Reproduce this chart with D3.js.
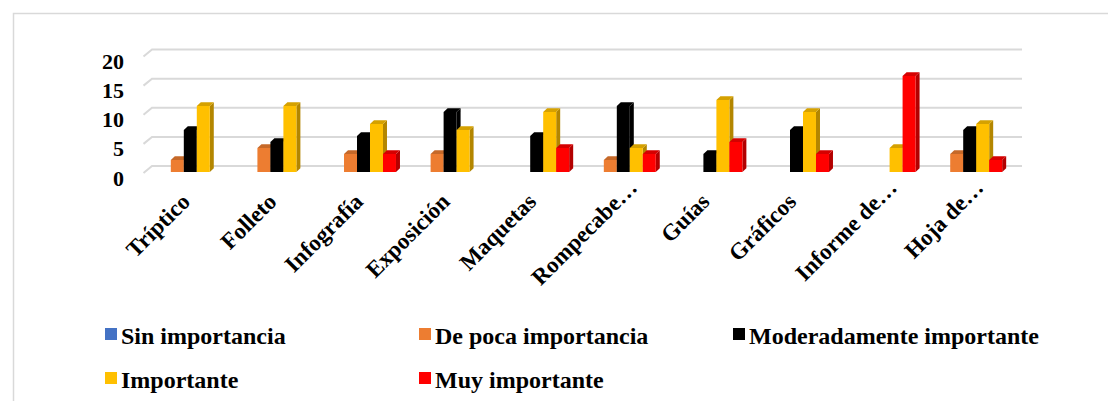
<!DOCTYPE html>
<html>
<head>
<meta charset="utf-8">
<script src="https://cdn.jsdelivr.net/npm/d3@7"></script>
<style>
  html, body { margin: 0; padding: 0; background: #fff; }
  svg { display: block; }
  text { font-family: "Liberation Serif", "Times New Roman", serif; font-weight: bold; fill: #000; }
</style>
</head>
<body>
<script>
// Valoración de recursos didácticos por nivel de importancia
const categories = ["Tríptico", "Folleto", "Infografía", "Exposición", "Maquetas",
                    "Rompecabe…", "Guías", "Gráficos", "Informe de…", "Hoja de…"];
const seriesNames = ["Sin importancia", "De poca importancia", "Moderadamente importante",
                     "Importante", "Muy importante"];
const sinImportancia          = [0, 0, 0, 0, 0, 0, 0, 0, 0, 0];
const dePocaImportancia       = [2, 4, 3, 3, 0, 2, 0, 0, 0, 3];
const moderadamenteImportante = [7, 5, 6, 10, 6, 11, 3, 7, 0, 7];
const importante              = [11, 11, 8, 7, 10, 4, 12, 10, 4, 8];
const muyImportante           = [0, 0, 3, 0, 4, 3, 5, 3, 16, 2];
const yTicks = [0, 5, 10, 15, 20];
const seriesColors = ["#4472C4", "#ED7D31", "#000000", "#FFC000", "#FF0000"];

const seriesValues = [sinImportancia, dePocaImportancia, moderadamenteImportante, importante, muyImportante];

const W = 1108, H = 401;
const svg = d3.select("body").append("svg").attr("width", W).attr("height", H);

// outer chart frame
svg.append("rect")
  .attr("x", 13.5).attr("y", 13.5).attr("width", W).attr("height", H)
  .attr("fill", "#fff").attr("stroke", "#d9d9d9").attr("stroke-width", 1.5);

// back wall (gridlines) and floor depth
const yBack = d3.scaleLinear().domain([0, 20]).range([166, 49.5]);
const backX0 = 152, backX1 = 1022;
const floorDx = -8.5, floorDy = 7;

const grid = svg.append("g");
yTicks.forEach(v => {
  const y = yBack(v);
  grid.append("path")
    .attr("d", `M${backX0 + floorDx},${y + floorDy}L${backX0},${y}L${backX1},${y}`)
    .attr("fill", "none").attr("stroke", "#d9d9d9").attr("stroke-width", 2);
});

// value axis labels
svg.append("g").selectAll("text").data(yTicks).join("text")
  .attr("x", 124).attr("y", d => yBack(d) + floorDy + 5)
  .attr("text-anchor", "end").attr("dominant-baseline", "central")
  .style("font-size", "22px")
  .text(d => d);

// bars
const x0 = d3.scaleBand().domain(categories).range([147, 1013]).paddingInner(0.25).paddingOuter(0.125);
const x1 = d3.scaleBand().domain(seriesNames).range([0, x0.bandwidth()]);
const yBar = d3.scaleLinear().domain([0, 20]).range([172, 52]);
const dx = 4, dy = 3.7;

const barData = [];
categories.forEach((c, i) => {
  seriesNames.forEach((s, j) => {
    barData.push({ cat: c, series: s, color: seriesColors[j], value: seriesValues[j][i] });
  });
});

const bars = svg.append("g").selectAll("g").data(barData.filter(d => d.value > 0)).join("g");
bars.each(function (d) {
  const g = d3.select(this);
  const x = x0(d.cat) + x1(d.series);
  const w = x1.bandwidth();
  const yT = yBar(d.value), yB = yBar(0);
  const base = d3.rgb(d.color);
  // right side face
  g.append("path")
    .attr("d", `M${x + w},${yB}L${x + w + dx},${yB - dy}L${x + w + dx},${yT - dy}L${x + w},${yT}Z`)
    .attr("fill", base.darker(1.0));
  // top face
  g.append("path")
    .attr("d", `M${x},${yT}L${x + dx},${yT - dy}L${x + w + dx},${yT - dy}L${x + w},${yT}Z`)
    .attr("fill", base.darker(0.5));
  // front face
  g.append("rect")
    .attr("x", x).attr("y", yT).attr("width", w).attr("height", yB - yT)
    .attr("fill", base);
});

// category labels, rotated -45°; truncated labels fill the whole label box
const labelY = 203, truncExtra = 20;
svg.append("g").selectAll("text").data(categories).join("text")
  .attr("text-anchor", "end")
  .style("font-size", "23px")
  .attr("transform", d => {
    const cx = x0(d) + x0.bandwidth() / 2;
    const ext = d.endsWith("…") ? truncExtra * Math.SQRT1_2 : 0;
    return `translate(${cx + 1 + ext},${labelY - ext}) rotate(-45)`;
  })
  .text(d => d);

// legend
const legCols = [105, 419, 733];
const legRows = [328, 372];
const legend = svg.append("g").selectAll("g").data(seriesNames).join("g")
  .attr("transform", (d, i) => `translate(${legCols[i % 3]},${legRows[Math.floor(i / 3)]})`);
legend.append("rect").attr("width", 12).attr("height", 12)
  .attr("fill", (d, i) => seriesColors[i]);
legend.append("text").attr("x", 16).attr("y", 16)
  .style("font-size", "24px")
  .text(d => d);
</script>
</body>
</html>
